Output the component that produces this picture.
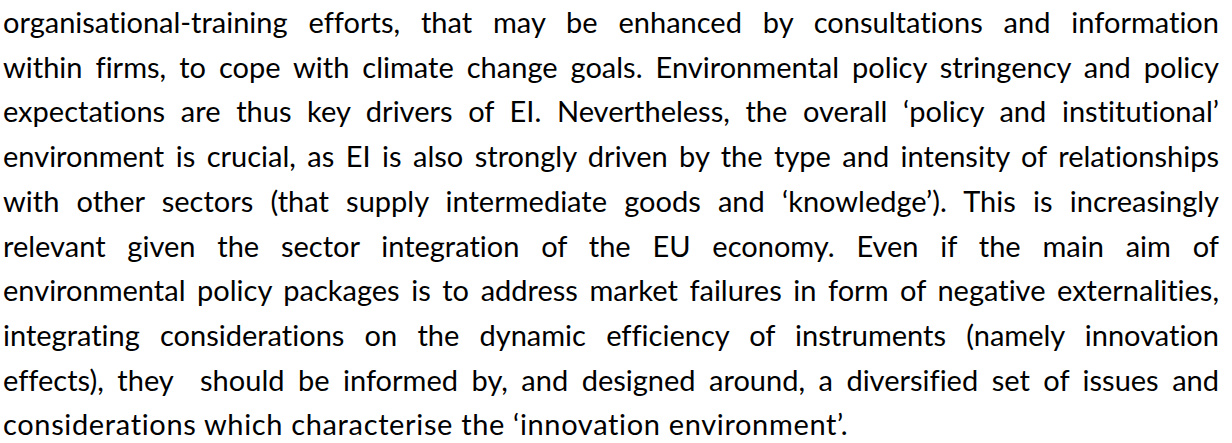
import React from "react";

// Each entry is one printed line of the paragraph
const lines: string[] = [
  "organisational-training  efforts,  that  may  be  enhanced  by  consultations  and  information",
  "within firms, to cope with climate change goals. Environmental policy stringency and policy",
  "expectations are thus key drivers of EI. Nevertheless, the overall \u2018policy and institutional\u2019",
  "environment is crucial, as EI is also strongly driven by the type and intensity of relationships",
  "with other sectors (that supply intermediate goods and \u2018knowledge\u2019). This is increasingly",
  "relevant given the sector integration of the EU economy. Even if the main aim of",
  "environmental policy packages is to address market failures in form of negative externalities,",
  "integrating considerations on the dynamic efficiency of instruments (namely innovation",
  "effects), they  should be informed by, and designed around, a diversified set of issues and",
  "considerations which characterise the \u2018innovation environment\u2019.",
];

const App = () => {
  return (
    <div
      style={{
        position: "absolute",
        left: 3,
        top: 0,
        width: 1216,
        height: 443,
        background: "#fff",
        fontFamily: "Lato, 'Noto Sans', sans-serif",
        fontSize: 29,
        lineHeight: "44.7px",
        color: "#000",
        fontVariantLigatures: "none",
      }}
    >
      {lines.map((l, i) => {
        const last = i === lines.length - 1;
        return (
          <div
            key={i}
            style={{
              whiteSpace: "pre",
              textAlign: last ? "left" : "justify",
              textAlignLast: last ? "left" : "justify",
              letterSpacing: last ? 0.65 : 0,
            }}
          >
            {l}
          </div>
        );
      })}
    </div>
  );
};

export default App;
